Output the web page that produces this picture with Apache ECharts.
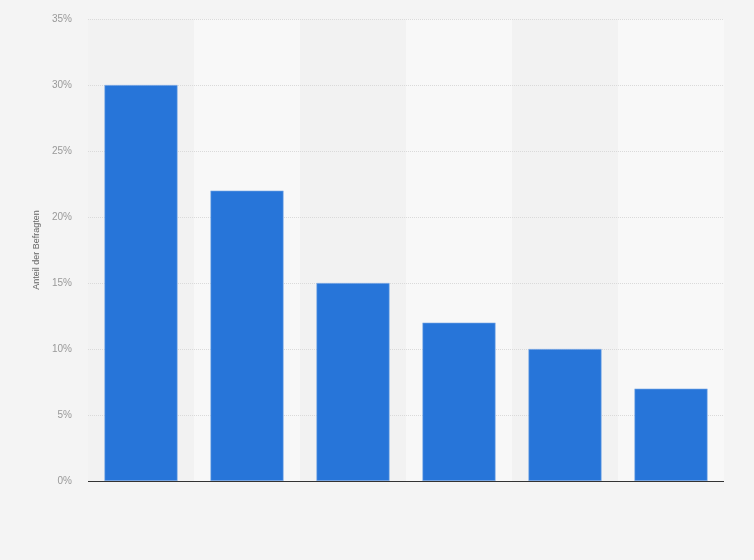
<!DOCTYPE html>
<html><head><meta charset="utf-8">
<script src="https://cdn.jsdelivr.net/npm/echarts@6/dist/echarts.min.js"></script>
<style>html,body{margin:0;padding:0;background:#f4f4f4}#c{width:754px;height:560px}</style>
</head><body><div id="c"></div>
<script>
const categories = ['A','B','C','D','E','F'];
const values = [30, 22, 15, 12, 10, 7];
const yTicks = [0,5,10,15,20,25,30,35];
const chart = echarts.init(document.getElementById('c'));
chart.setOption({
  backgroundColor: '#f4f4f4',
  animation: false,
  grid: {left: 88, right: 30, top: 19, bottom: 79},
  xAxis: {
    type: 'category', data: categories, z: 0,
    axisLine: {show: false},
    axisTick: {show: false},
    axisLabel: {show: false},
    splitArea: {show: true, areaStyle: {color: ['#f2f2f2', '#f8f8f8']}}
  },
  yAxis: {
    type: 'value', min: 0, max: yTicks[yTicks.length-1], interval: 5, z: 1,
    name: 'Anteil der Befragten', nameLocation: 'middle', nameGap: 43, nameRotate: 90,
    nameTextStyle: {color: '#666', fontSize: 9, fontFamily: 'Liberation Sans'},
    axisLine: {show: false}, axisTick: {show: false},
    axisLabel: {formatter: '{value}%', color: '#999', fontSize: 10, fontFamily: 'Liberation Sans', margin: 16},
    splitLine: {showMinLine: false, lineStyle: {color: '#dadada', type: [1, 1]}}
  },
  series: [{
    type: 'bar', data: values, barWidth: '69%', z: 2,
    itemStyle: {color: '#2775d9', borderColor: '#8fb5e8', borderWidth: 0.6},
    markLine: {
      silent: true, symbol: 'none', label: {show: false},
      lineStyle: {color: '#333', type: 'solid', width: 1},
      data: [{yAxis: yTicks[0]}]
    }
  }]
});
</script></body></html>
